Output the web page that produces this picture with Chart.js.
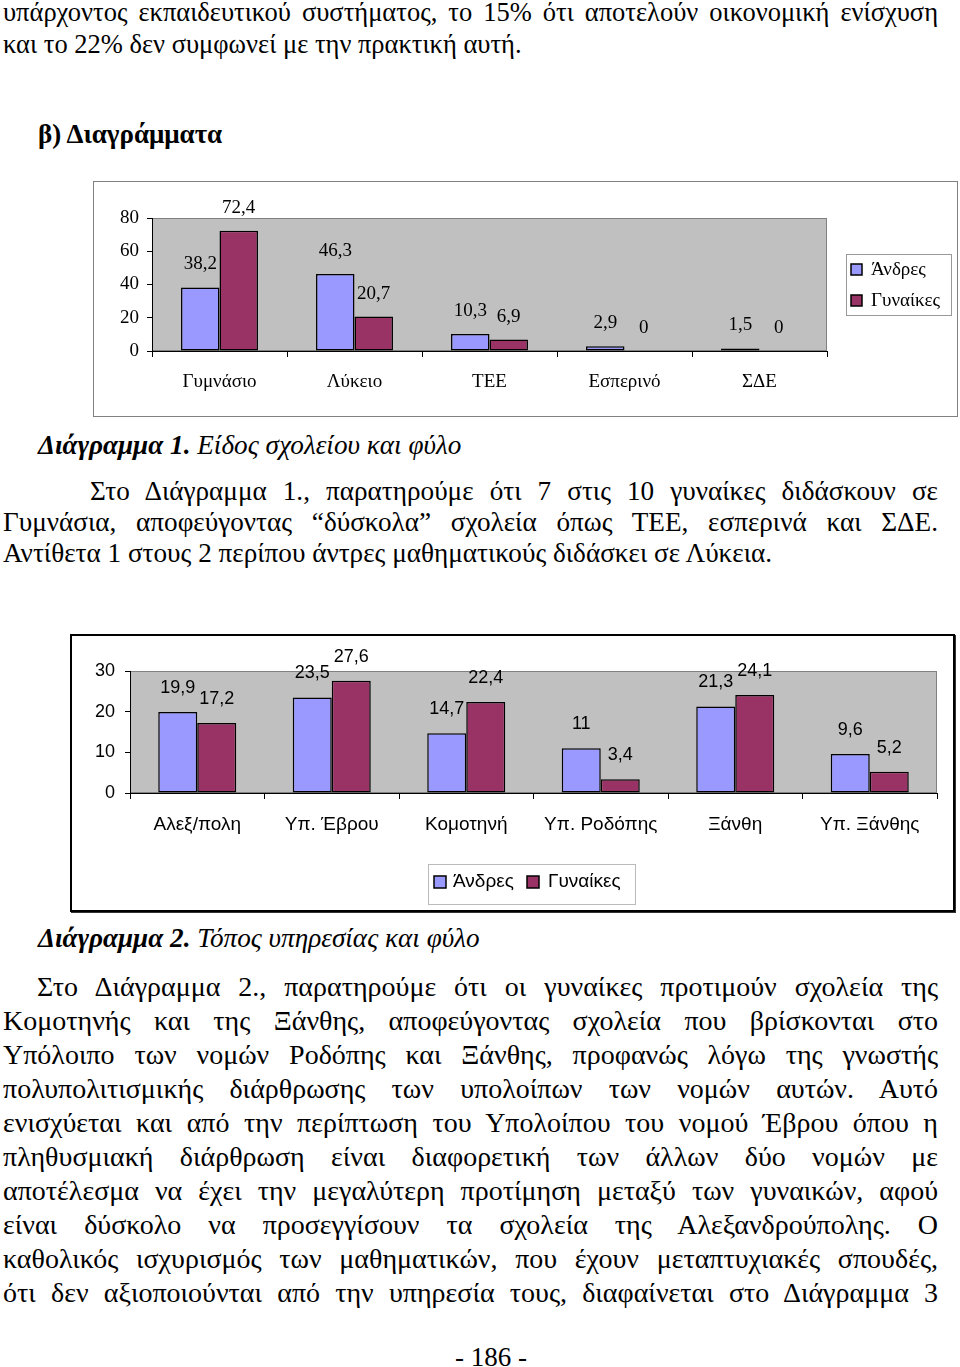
<!DOCTYPE html>
<html>
<head>
    <meta charset="utf-8">
    <title>Διαγράμματα</title>
    <script src="https://cdn.jsdelivr.net/npm/chart.js"></script>
    <style>
        body {
            margin: 0;
            width: 960px;
            height: 1367px;
            position: relative;
            background: #fff;
            font-family: "Liberation Serif", "Times New Roman", serif;
            color: #000;
            overflow: hidden;
        }
        .ln {
            position: absolute;
            left: 3px;
            width: 935px;
            height: 32px;
            line-height: 32px;
            text-align: justify;
            text-align-last: justify;
        }
        .ln.last { text-align-last: left; }
        .top { font-size: 26.5px; }
        .p1 { font-size: 27.2px; }
        .p2 { font-size: 28px; }
        .head { font-weight: bold; font-size: 27px; left: 38px; width: 600px; text-align-last: left; }
        .cap { font-style: italic; font-size: 27.2px; left: 38px; width: 600px; text-align-last: left; }
        .frame {
            position: absolute;
            box-sizing: border-box;
        }
        #frame1 { left: 93px; top: 181px; width: 865px; height: 236px; border: 1px solid #808080; }
        #frame2 { left: 70px; top: 634px; width: 885px; height: 278px; border: 2px solid #000; box-shadow: 1px 1px 0 #333; }
        canvas { position: absolute; }
        #chart1 { left: 93px; top: 181px; }
        #chart2 { left: 70px; top: 634px; }
        .page { position: absolute; left: 391px; width: 200px; top: 1341px; line-height: 32px; text-align: center; font-size: 27px; }
    </style>
</head>
<body>
    <div class="ln top" style="top:-4px">υπάρχοντος εκπαιδευτικού συστήματος, το 15% ότι αποτελούν οικονομική ενίσχυση</div>
    <div class="ln top last" style="top:28px">και το 22% δεν συμφωνεί με την πρακτική αυτή.</div>

    <div class="ln head" style="top:118px">β) Διαγράμματα</div>

    <div class="frame" id="frame1"></div>
    <canvas id="chart1" width="865" height="236"></canvas>

    <div class="ln cap" style="top:429px"><b>Διάγραμμα 1.</b> Είδος σχολείου και φύλο</div>

    <div class="ln p1" style="top:475px; left:90px; width:848px">Στο Διάγραμμα 1., παρατηρούμε ότι 7 στις 10 γυναίκες διδάσκουν σε</div>
    <div class="ln p1" style="top:506px">Γυμνάσια, αποφεύγοντας “δύσκολα” σχολεία όπως ΤΕΕ, εσπερινά και ΣΔΕ.</div>
    <div class="ln p1 last" style="top:537px">Αντίθετα 1 στους 2 περίπου άντρες μαθηματικούς διδάσκει σε Λύκεια.</div>

    <div class="frame" id="frame2"></div>
    <canvas id="chart2" width="885" height="278"></canvas>

    <div class="ln cap" style="top:922px"><b>Διάγραμμα 2.</b> Τόπος υπηρεσίας και φύλο</div>

    <div class="ln p2" style="top:971px; left:37px; width:901px">Στο Διάγραμμα 2., παρατηρούμε ότι οι γυναίκες προτιμούν σχολεία της</div>
    <div class="ln p2" style="top:1005px">Κομοτηνής και της Ξάνθης, αποφεύγοντας σχολεία που βρίσκονται στο</div>
    <div class="ln p2" style="top:1039px">Υπόλοιπο των νομών Ροδόπης και Ξάνθης, προφανώς λόγω της γνωστής</div>
    <div class="ln p2" style="top:1073px">πολυπολιτισμικής διάρθρωσης των υπολοίπων των νομών αυτών. Αυτό</div>
    <div class="ln p2" style="top:1107px">ενισχύεται και από την περίπτωση του Υπολοίπου του νομού Έβρου όπου η</div>
    <div class="ln p2" style="top:1141px">πληθυσμιακή διάρθρωση είναι διαφορετική των άλλων δύο νομών με</div>
    <div class="ln p2" style="top:1175px">αποτέλεσμα να έχει την μεγαλύτερη προτίμηση μεταξύ των γυναικών, αφού</div>
    <div class="ln p2" style="top:1209px">είναι δύσκολο να προσεγγίσουν τα σχολεία της Αλεξανδρούπολης. Ο</div>
    <div class="ln p2" style="top:1243px">καθολικός ισχυρισμός των μαθηματικών, που έχουν μεταπτυχιακές σπουδές,</div>
    <div class="ln p2" style="top:1277px">ότι δεν αξιοποιούνται από την υπηρεσία τους, διαφαίνεται στο Διάγραμμα 3</div>

    <div class="page">- 186 -</div>

    <script>
        // Διάγραμμα 1 - Είδος σχολείου και φύλο
        const schoolTypes = ['Γυμνάσιο', 'Λύκειο', 'ΤΕΕ', 'Εσπερινό', 'ΣΔΕ'];
        const schoolMen = [38.2, 46.3, 10.3, 2.9, 1.5];
        const schoolWomen = [72.4, 20.7, 6.9, 0, 0];
        const schoolTicks = [0, 20, 40, 60, 80];

        // Διάγραμμα 2 - Τόπος υπηρεσίας και φύλο
        const places = ['Αλεξ/πολη', 'Υπ. Έβρου', 'Κομοτηνή', 'Υπ. Ροδόπης', 'Ξάνθη', 'Υπ. Ξάνθης'];
        const placeMen = [19.9, 23.5, 14.7, 11, 21.3, 9.6];
        const placeWomen = [17.2, 27.6, 22.4, 3.4, 24.1, 5.2];
        const placeTicks = [0, 10, 20, 30];

        const seriesNames = ['Άνδρες', 'Γυναίκες'];
        const menColor = '#9999ff';
        const womenColor = '#993366';

        const fmt = v => String(v).replace('.', ',');

        // grey plot area like the old Excel charts
        const plotArea = {
            id: 'plotArea',
            beforeDraw(chart) {
                const a = chart.chartArea;
                const ctx = chart.ctx;
                ctx.save();
                ctx.fillStyle = '#c0c0c0';
                ctx.fillRect(a.left, a.top, a.right - a.left, a.bottom - a.top);
                ctx.strokeStyle = '#808080';
                ctx.lineWidth = 1;
                ctx.strokeRect(a.left + 0.5, a.top + 0.5, a.right - a.left - 1, a.bottom - a.top - 1);
                ctx.restore();
            }
        };

        // value labels above the bars
        const valueLabels = {
            id: 'valueLabels',
            afterDatasetsDraw(chart, args, opts) {
                const ctx = chart.ctx;
                ctx.save();
                ctx.font = opts.font;
                ctx.fillStyle = '#000';
                ctx.textAlign = 'center';
                ctx.textBaseline = 'middle';
                chart.data.datasets.forEach((ds, i) => {
                    chart.getDatasetMeta(i).data.forEach((bar, j) => {
                        ctx.fillText(fmt(ds.data[j]), bar.x, bar.y - opts.offset);
                    });
                });
                ctx.restore();
            }
        };

        // boxed legend
        const boxLegend = {
            id: 'boxLegend',
            afterDraw(chart, args, opts) {
                const ctx = chart.ctx;
                ctx.save();
                ctx.fillStyle = '#fff';
                ctx.fillRect(opts.box[0], opts.box[1], opts.box[2], opts.box[3]);
                ctx.strokeStyle = opts.border;
                ctx.lineWidth = 1;
                ctx.strokeRect(opts.box[0] + 0.5, opts.box[1] + 0.5, opts.box[2] - 1, opts.box[3] - 1);
                ctx.font = opts.font;
                ctx.textBaseline = 'middle';
                ctx.textAlign = 'left';
                chart.data.datasets.forEach((ds, i) => {
                    const it = opts.items[i];
                    ctx.fillStyle = ds.backgroundColor;
                    ctx.fillRect(it[0], it[1], opts.swatch, opts.swatch);
                    ctx.strokeStyle = '#000';
                    ctx.lineWidth = 1.5;
                    ctx.strokeRect(it[0], it[1], opts.swatch, opts.swatch);
                    ctx.fillStyle = '#000';
                    ctx.fillText(ds.label, it[2], it[3]);
                });
                ctx.restore();
            }
        };

        function makeDatasets(men, women) {
            const bw = c => (c.raw === 0 ? 0 : 1.5);
            return [
                { label: seriesNames[0], data: men, backgroundColor: menColor, borderColor: '#000', borderWidth: bw, borderSkipped: false },
                { label: seriesNames[1], data: women, backgroundColor: womenColor, borderColor: '#000', borderWidth: bw, borderSkipped: false }
            ];
        }

        function axes(family, tickValues, yMax, cfg) {
            const font = { family: family, size: cfg.fontSize };
            return {
                x: {
                    grid: { drawOnChartArea: false, drawTicks: true, tickLength: 6, color: '#000', offset: true },
                    border: { color: '#000', width: 1 },
                    ticks: { font: font, color: '#000', padding: cfg.xPad, maxRotation: 0, autoSkip: false },
                    afterFit(s) { s.height = cfg.xHeight; }
                },
                y: {
                    min: 0,
                    max: yMax,
                    grid: { drawOnChartArea: false, tickLength: 5, color: '#000' },
                    border: { color: '#000', width: 1 },
                    ticks: { font: { family: family, size: cfg.yFontSize }, color: '#000', padding: cfg.yPad },
                    afterBuildTicks(s) { s.ticks = tickValues.map(v => ({ value: v })); },
                    afterFit(s) { s.width = cfg.yWidth; }
                }
            };
        }

        new Chart(document.getElementById('chart1'), {
            type: 'bar',
            data: { labels: schoolTypes, datasets: makeDatasets(schoolMen, schoolWomen) },
            options: {
                responsive: false,
                animation: false,
                devicePixelRatio: 1,
                categoryPercentage: 0.57,
                barPercentage: 1,
                layout: { padding: { left: 10, right: 131, top: 37, bottom: 16 } },
                scales: axes('"Liberation Serif", "Times New Roman", serif', schoolTicks, 80,
                    { fontSize: 19, yFontSize: 19, xPad: 14, xHeight: 50, yPad: 8, yWidth: 49 }),
                plugins: {
                    legend: { display: false },
                    tooltip: { enabled: false },
                    valueLabels: { font: '19px "Liberation Serif", serif', offset: 23 },
                    boxLegend: {
                        box: [753, 73, 106, 62],
                        border: '#999',
                        font: '19px "Liberation Serif", serif',
                        swatch: 11,
                        items: [[758, 83, 778, 89], [758, 114, 778, 120]]
                    }
                }
            },
            plugins: [plotArea, valueLabels, boxLegend]
        });

        new Chart(document.getElementById('chart2'), {
            type: 'bar',
            data: { labels: places, datasets: makeDatasets(placeMen, placeWomen) },
            options: {
                responsive: false,
                animation: false,
                devicePixelRatio: 1,
                categoryPercentage: 0.58,
                barPercentage: 1,
                layout: { padding: { left: 10, right: 18, top: 37, bottom: 59 } },
                scales: axes('"Liberation Sans", Arial, sans-serif', placeTicks, 30,
                    { fontSize: 19, yFontSize: 18, xPad: 14, xHeight: 60, yPad: 10, yWidth: 50 }),
                plugins: {
                    legend: { display: false },
                    tooltip: { enabled: false },
                    valueLabels: { font: '18px "Liberation Sans", Arial, sans-serif', offset: 24 },
                    boxLegend: {
                        box: [358, 230, 208, 41],
                        border: '#bbb',
                        font: '19px "Liberation Sans", Arial, sans-serif',
                        swatch: 12,
                        items: [[364, 242, 383, 248], [457, 242, 478, 248]]
                    }
                }
            },
            plugins: [plotArea, valueLabels, boxLegend]
        });
    </script>
</body>
</html>
